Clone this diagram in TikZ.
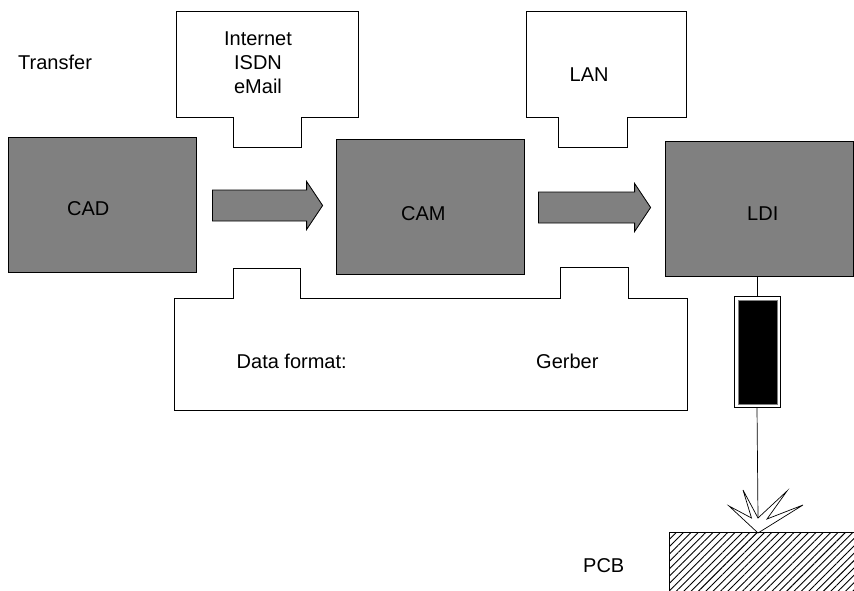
\documentclass[tikz,border=0pt]{standalone}
\usepackage{fontspec}
\setmainfont{Liberation Sans}
\usetikzlibrary{calc,patterns.meta}

\begin{document}
\begin{tikzpicture}[x=1pt, y=-1pt,
  font=\fontsize{20}{24}\selectfont,
  unit/.style={draw, fill=gray, line width=0.8pt, inner sep=0pt,
               minimum width=188pt, minimum height=135pt},
  callout/.style={draw, line width=0.8pt, fill=white},
  blockarrow/.style={draw, fill=gray, line width=0.8pt},
  txt/.style={anchor=base west, inner sep=0pt},
  thin line/.style={line width=0.7pt}]
\useasboundingbox (0,0) rectangle (854,591);

% transfer callouts
\draw[callout] (176,11) -- (358,11) -- (358,117) -- (301,117) -- (301,147)
  -- (233,147) -- (233,117) -- (176,117) -- cycle;
\draw[callout] (526,11) -- (686,11) -- (686,117) -- (627,117) -- (627,147)
  -- (558,147) -- (558,117) -- (526,117) -- cycle;
\draw[callout] (174,298) -- (233,298) -- (233,268) -- (300,268) -- (300,298)
  -- (560,298) -- (560,267) -- (628,267) -- (628,298) -- (687,298)
  -- (687,410) -- (174,410) -- cycle;

\node[txt] (transfer) at (18,70) {Transfer};
\node[align=center, inner sep=0pt] (net) at (258,63) {Internet\\ISDN\\eMail};
\node[txt] (lan) at (569.5,82) {LAN};
\node[txt] (format) at (236.5,368) {Data format:};
\node[txt] (gerber) at (536,368) {Gerber};

% process chain
\node[unit] (cad) at (102,204.5) {};
\node[unit] (cam) at (430,206.5) {};
\node[unit] (ldi) at (759,208.5) {};
\node[txt] (cadlbl) at (67,215) {CAD};
\node[txt] (camlbl) at (401,220) {CAM};
\node[txt] (ldilbl) at (747,220) {LDI};

\foreach \a/\b/\ga/\gb in {cad/cam/16/13, cam/ldi/14/14}{
  \coordinate (m) at ($(\a.east)!.5!(\b.west)$);
  \draw[blockarrow] ($(\a.east |- m)+(\ga,-15.5)$)
    -- ($(\b.west |- m)+(-\gb-16,-15.5)$) -- ++(0,-8.5)
    -- ($(\b.west |- m)+(-\gb,0)$)
    -- ($(\b.west |- m)+(-\gb-16,24)$) -- ++(0,-8.5)
    -- ($(\a.east |- m)+(\ga,15.5)$) -- cycle;
}

% laser head and board
\node[draw, fill=white, line width=0.8pt, inner sep=0pt,
      minimum width=46pt, minimum height=111pt] (head) at (757,351.5) {};
\node[draw=gray, fill=black, line width=0.8pt, inner sep=0pt,
      minimum width=39pt, minimum height=104pt] (core) at (757.5,352) {};
\draw[thin line] (head.north |- ldi.south) -- (head.north);

\coordinate (spot) at (758,518);
\draw[thin line] (head.south) -- (spot);
\draw[thin line, fill=white] (758,533) -- (729,506) -- (751.5,518) -- (743,490)
  -- (spot) -- (787,491) -- (767,519) -- (803,505) -- cycle;

\node[inner sep=0pt, minimum width=184pt, minimum height=58pt,
      pattern={Lines[angle=45, distance=5.2pt, line width=0.9pt]}] (pcb) at (762,562) {};
\draw[line width=0.8pt] (pcb.south west) -- (pcb.north west) -- (pcb.north east);
\node[txt] (pcblbl) at (583,572) {PCB};
\end{tikzpicture}
\end{document}
